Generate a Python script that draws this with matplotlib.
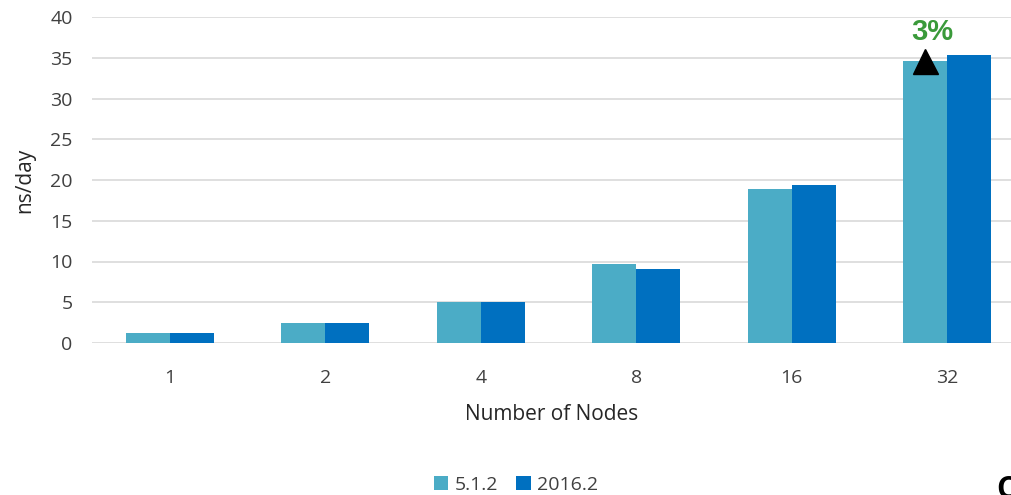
import matplotlib
matplotlib.use("Agg")
import matplotlib.pyplot as plt
import numpy as np

nodes = ["1", "2", "4", "8", "16", "32"]
v512 = [1.2, 2.45, 5.0, 9.7, 18.9, 34.6]
v2016 = [1.2, 2.45, 5.0, 9.1, 19.4, 35.3]
series_names = ["5.1.2", "2016.2"]
gain_label = "3%"

c512 = "#4BACC6"
c2016 = "#0070C0"

plt.rcParams["font.family"] = ["Open Sans", "DejaVu Sans"]

fig = plt.figure(figsize=(10.12, 4.95), dpi=100)
ax = fig.add_axes([92 / 1012, 152 / 495, (1012 - 92) / 1012, 326 / 495])

x = np.arange(len(nodes))
w = 0.283
ax.bar(x - w / 2, v512, width=w, color=c512, label=series_names[0], zorder=3)
ax.bar(x + w / 2, v2016, width=w, color=c2016, label=series_names[1], zorder=3)

ax.set_xlim(-0.5, 5.5 - 13 / 155.6)
ax.set_ylim(0, 40)
ax.set_yticks(range(0, 41, 5))
ax.yaxis.grid(True, color="#d9d9d9", linewidth=1.2, zorder=0)
ax.set_axisbelow(True)
for s in ax.spines.values():
    s.set_visible(False)
ax.tick_params(axis="both", length=0, labelsize=14, colors="#404040")
ax.tick_params(axis="y", pad=14)
ax.tick_params(axis="x", pad=19)
ax.set_xticks(x)
ax.set_xticklabels(nodes)
ax.set_ylabel("ns/day", fontsize=15, color="#262626", labelpad=11)
ax.set_xlabel("Number of Nodes", fontsize=15, color="#262626", labelpad=12)

# performance gain marker on the largest run
ax.plot([5 - w / 2], [v512[5]], marker="^", color="black", markersize=18,
        linestyle="none", zorder=5, clip_on=False)
ax.text(5 - w / 2 + 0.045, 38.2, gain_label, color="#3A9A3A", fontsize=21,
        fontweight="bold", ha="center", va="center", family=["Liberation Sans"])

ax.legend(loc="lower center", bbox_to_anchor=(516 / 1012, -0.002), bbox_transform=fig.transFigure,
          ncol=2, frameon=False, fontsize=14, handlelength=0.75, handleheight=0.75,
          handletextpad=0.35, columnspacing=0.9, borderaxespad=0.0, borderpad=0.1,
          labelcolor="#404040")

fig.text(0.984, -0.02, "C", fontsize=22, fontweight="bold", color="black", ha="left", va="bottom")

fig.savefig("out.png", dpi=100)
